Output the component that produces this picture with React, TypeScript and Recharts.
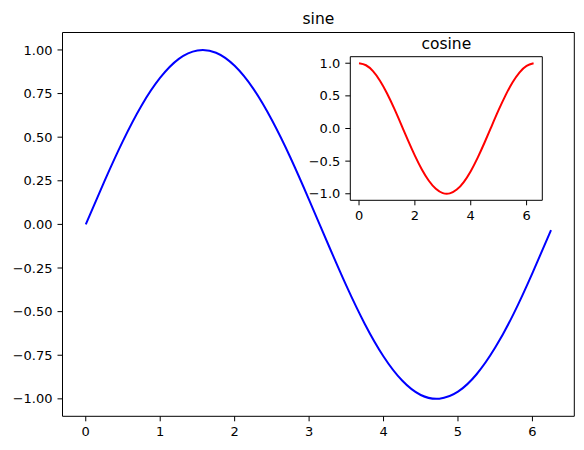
import React from 'react';
import { LineChart, Line, XAxis, YAxis, CartesianGrid } from 'recharts';

const xValues = [0, 0.25, 0.5, 0.75, 1, 1.25, 1.5, 1.75, 2, 2.25, 2.5, 2.75, 3, 3.25, 3.5, 3.75, 4, 4.25, 4.5, 4.75, 5, 5.25, 5.5, 5.75, 6, 6.25];
const sineValues = [0, 0.247, 0.479, 0.682, 0.841, 0.949, 0.997, 0.984, 0.909, 0.778, 0.598, 0.382, 0.141, -0.108, -0.351, -0.572, -0.757, -0.895, -0.978, -0.999, -0.959, -0.859, -0.706, -0.51, -0.279, -0.033];
const cosineValues = [1, 0.969, 0.878, 0.732, 0.54, 0.315, 0.071, -0.178, -0.416, -0.628, -0.801, -0.924, -0.99, -0.994, -0.936, -0.82, -0.654, -0.446, -0.211, 0.038, 0.284, 0.512, 0.709, 0.861, 0.96, 0.999];

const mainXTicks = [0, 1, 2, 3, 4, 5, 6];
const mainYTicks = [-1, -0.75, -0.5, -0.25, 0, 0.25, 0.5, 0.75, 1];
const insetXTicks = [0, 2, 4, 6];
const insetYTicks = [-1, -0.5, 0, 0.5, 1];
const mainTitle = 'sine';
const insetTitle = 'cosine';

const sineData = xValues.map((x, i) => ({ x, y: sineValues[i] }));
const cosineData = xValues.map((x, i) => ({ x, y: cosineValues[i] }));

const xDomain: [number, number] = [-0.3125, 6.5625];
const yDomain: [number, number] = [-1.1, 1.1];

const FONT = 'DejaVu Sans, sans-serif';
const tickStyle = { fill: '#000', fontSize: 13, fontFamily: FONT };

const fmt = (digits: number) => (v: number) => {
  const s = Math.abs(v).toFixed(digits);
  return v < 0 ? '\u2212' + s : s;
};

export default function App() {
  return (
    <div style={{ position: 'absolute', left: 0, top: 0, width: 584, height: 450, background: '#fff' }}>
      <div style={{ position: 'absolute', left: 0, top: 0 }}>
        <LineChart width={584} height={450} data={sineData} margin={{ top: 31.5, right: 8.7, bottom: 0, left: 0 }}>
          <XAxis
            dataKey="x"
            type="number"
            domain={xDomain}
            allowDataOverflow
            ticks={mainXTicks}
            height={33.7}
            tick={tickStyle}
            tickSize={5}
            tickMargin={5}
            tickLine={{ stroke: '#000' }}
            axisLine={{ stroke: '#000' }}
          />
          <XAxis xAxisId="top" orientation="top" dataKey="x" type="number" domain={xDomain} allowDataOverflow height={1} tick={false} tickLine={false} axisLine={{ stroke: '#000' }} />
          <YAxis
            type="number"
            domain={yDomain}
            allowDataOverflow
            ticks={mainYTicks}
            width={62.5}
            tick={tickStyle}
            tickFormatter={fmt(2)}
            tickSize={5}
            tickMargin={5}
            tickLine={{ stroke: '#000' }}
            axisLine={{ stroke: '#000' }}
          />
          <YAxis yAxisId="right" orientation="right" type="number" domain={yDomain} allowDataOverflow width={1} tick={false} tickLine={false} axisLine={{ stroke: '#000' }} />
          <Line dataKey="y" type="natural" stroke="#0000ff" strokeWidth={2} dot={false} isAnimationActive={false} />
        </LineChart>
      </div>
      <div style={{ position: 'absolute', left: 300, top: 30 }}>
        <LineChart width={250} height={195} data={cosineData} margin={{ top: 25.7, right: 6.7, bottom: 0, left: 0 }}>
          <CartesianGrid horizontal={false} vertical={false} fill="#fff" fillOpacity={1} stroke="none" />
          <XAxis
            dataKey="x"
            type="number"
            domain={xDomain}
            allowDataOverflow
            ticks={insetXTicks}
            height={24.7}
            tick={tickStyle}
            tickSize={5}
            tickMargin={5}
            tickLine={{ stroke: '#000' }}
            axisLine={{ stroke: '#000' }}
          />
          <XAxis xAxisId="top" orientation="top" dataKey="x" type="number" domain={xDomain} allowDataOverflow height={1} tick={false} tickLine={false} axisLine={{ stroke: '#000' }} />
          <YAxis
            type="number"
            domain={yDomain}
            allowDataOverflow
            ticks={insetYTicks}
            width={50.3}
            tick={tickStyle}
            tickFormatter={fmt(1)}
            tickSize={5}
            tickMargin={5}
            tickLine={{ stroke: '#000' }}
            axisLine={{ stroke: '#000' }}
          />
          <YAxis yAxisId="right" orientation="right" type="number" domain={yDomain} allowDataOverflow width={1} tick={false} tickLine={false} axisLine={{ stroke: '#000' }} />
          <Line dataKey="y" type="natural" stroke="#ff0000" strokeWidth={2} dot={false} isAnimationActive={false} />
        </LineChart>
      </div>
      <svg width={584} height={450} style={{ position: 'absolute', left: 0, top: 0, pointerEvents: 'none' }}>
        <text x={318.4} y={24.3} textAnchor="middle" fontSize={15.5} fontFamily={FONT} fill="#000">{mainTitle}</text>
        <text x={446.3} y={48.5} textAnchor="middle" fontSize={15.5} fontFamily={FONT} fill="#000">{insetTitle}</text>
      </svg>
    </div>
  );
}
